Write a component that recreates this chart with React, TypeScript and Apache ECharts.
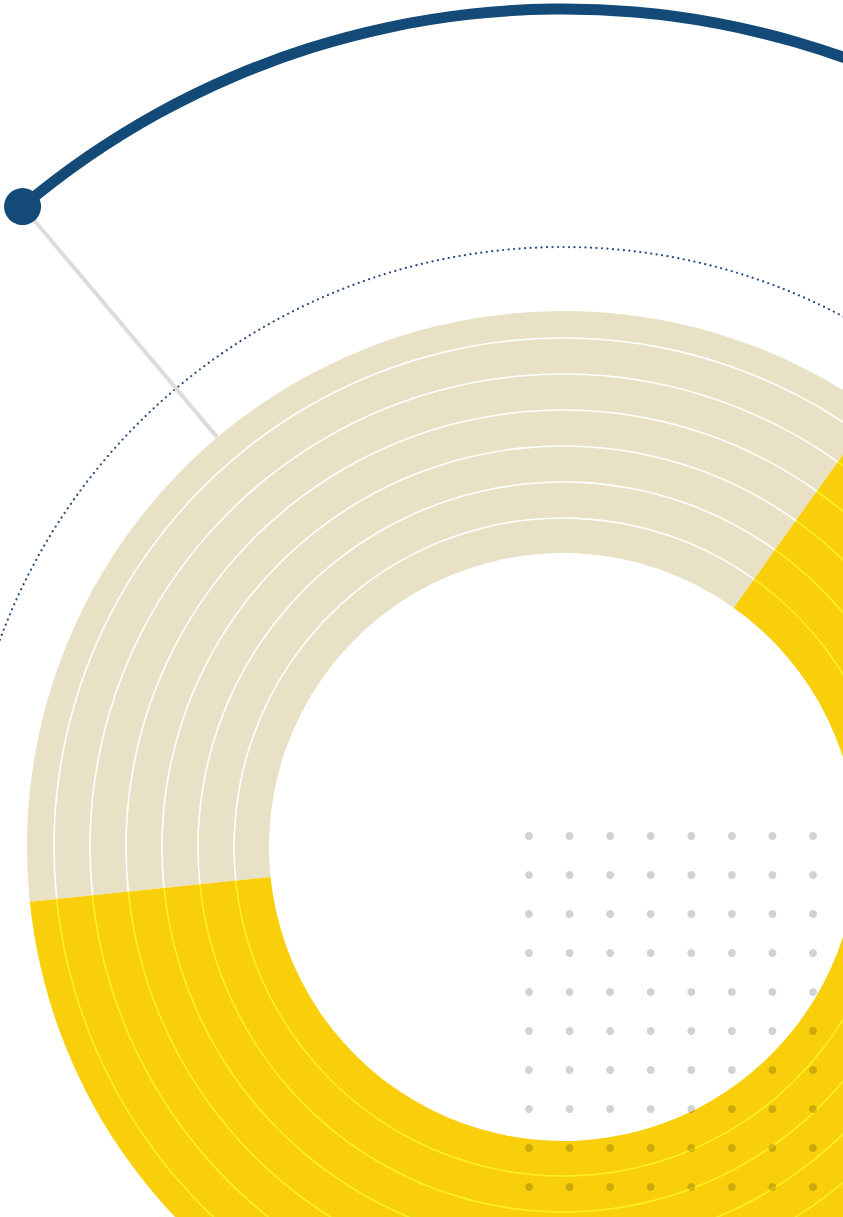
import React, { useEffect, useRef } from "react";
import * as echarts from "echarts";

// Split of the ring (in degrees of a 360° circle)
const sliceNames = ["Beige", "Yellow"];
const sliceValues = [131.35, 228.65];
const sliceColors = ["#e8e1c5", "#f9cf0b"];
const separatorColors = ["#ffffff", "#fff21c"];

// Ring radii (px)
const innerRadius = 294;
const outerRadius = 536;
const separatorRadii = [509, 473, 437, 401, 365, 329];

// Dot grid
const dotCols = [0, 1, 2, 3, 4, 5, 6, 7];
const dotRows = [0, 1, 2, 3, 4, 5, 6, 7, 8, 9];

// Outer arc (degrees)
const arcValues = [90.16, 269.84];

const CX = 563;
const CY = 847;
const START = 185.85;
const ARC_START = 130.16;
const ARC_R = 838;

export default function App() {
  const ref = useRef<HTMLDivElement>(null);
  useEffect(() => {
    document.body.style.margin = "0";
    const chart = echarts.init(ref.current!, null, { renderer: "svg" });
    const a = (ARC_START * Math.PI) / 180;
    const dotX = CX + ARC_R * Math.cos(a);
    const dotY = CY - ARC_R * Math.sin(a);
    const lineEndX = CX + outerRadius * Math.cos(a);
    const lineEndY = CY - outerRadius * Math.sin(a);

    const baseSeries: any = {
      type: "pie",
      center: [CX, CY],
      clockwise: true,
      silent: true,
      label: { show: false },
      labelLine: { show: false },
      emphasis: { disabled: true },
    };

    const dotData: number[][] = [];
    dotCols.forEach((c) => dotRows.forEach((r) => dotData.push([c, r])));

    chart.setOption({
      animation: false,
      grid: { left: 529, top: 836, width: 284, height: 351 },
      xAxis: { type: "value", min: 0, max: 7, show: false },
      yAxis: { type: "value", min: 0, max: 9, inverse: true, show: false },
      graphic: [
        {
          type: "arc",
          shape: {
            cx: CX,
            cy: CY,
            r: 600,
            startAngle: Math.PI * 1.01,
            endAngle: Math.PI * 2,
            clockwise: true,
          },
          style: {
            fill: "none",
            stroke: "#2d5182",
            lineWidth: 2.2,
            lineDash: [0.1, 5.4],
            lineCap: "round",
          },
          z: 1,
          silent: true,
        },
        {
          type: "line",
          shape: { x1: dotX, y1: dotY, x2: lineEndX, y2: lineEndY },
          style: { stroke: "#dcdcdc", lineWidth: 4 },
          z: 1,
          silent: true,
        },
        {
          type: "circle",
          shape: { cx: dotX, cy: dotY, r: 18.5 },
          style: { fill: "#134a78" },
          z: 100,
          silent: true,
        },
      ],
      series: [
        {
          ...baseSeries,
          radius: [ARC_R - 5.5, ARC_R + 5.5],
          startAngle: ARC_START,
          itemStyle: { borderWidth: 0 },
          data: [
            { value: arcValues[0], name: "arc", itemStyle: { color: "#134a78" } },
            { value: arcValues[1], name: "rest", itemStyle: { color: "rgba(0,0,0,0)" } },
          ],
        },
        {
          ...baseSeries,
          radius: [innerRadius, outerRadius],
          startAngle: START,
          itemStyle: { borderWidth: 0 },
          data: sliceNames.map((n, i) => ({
            name: n,
            value: sliceValues[i],
            itemStyle: { color: sliceColors[i] },
          })),
        },
        ...separatorRadii.map((r) => ({
          ...baseSeries,
          radius: [r - 0.8, r + 0.8],
          startAngle: START,
          itemStyle: { borderWidth: 0 },
          data: sliceNames.map((n, i) => ({
            name: n,
            value: sliceValues[i],
            itemStyle: { color: separatorColors[i] },
          })),
        })),
        {
          type: "scatter",
          silent: true,
          symbolSize: 8,
          itemStyle: { color: "rgba(0,0,0,0.22)" },
          data: dotData,
          z: 5,
        },
      ],
    });
    return () => chart.dispose();
  }, []);
  return (
    <div
      ref={ref}
      style={{ position: "absolute", left: 0, top: 0, width: 843, height: 1217 }}
    />
  );
}
